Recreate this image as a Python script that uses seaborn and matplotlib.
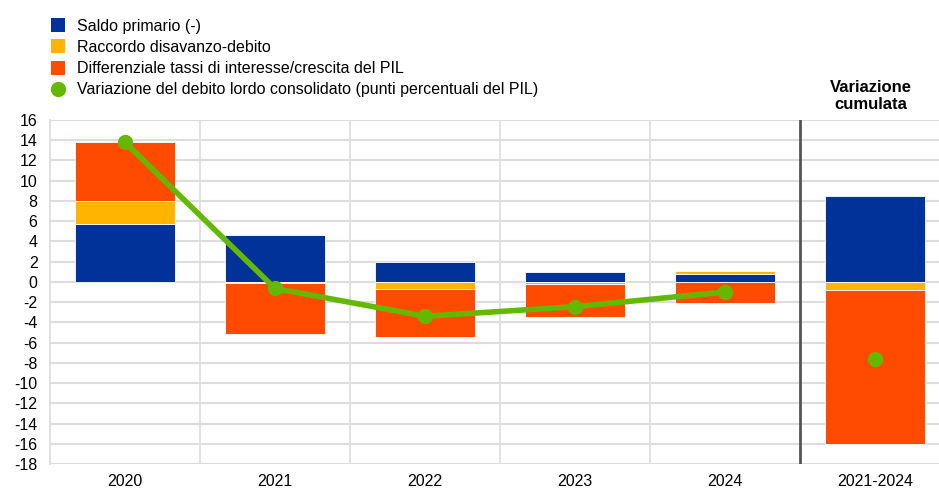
import numpy as np
import matplotlib
matplotlib.use("Agg")
import matplotlib.pyplot as plt
import seaborn as sns
from matplotlib.lines import Line2D

sns.set_style("white")
plt.rcParams['font.family'] = ['Liberation Sans', 'DejaVu Sans']
plt.rcParams['axes.unicode_minus'] = False
plt.rcParams['text.color'] = 'black'

# dati (punti percentuali del PIL)
categorie = ['2020', '2021', '2022', '2023', '2024', '2021-2024']
saldo_primario = [5.7, 4.6, 2.0, 1.0, 0.8, 8.5]
raccordo = [2.3, -0.1, -0.7, -0.2, 0.25, -0.82]
differenziale = [5.8, -5.1, -4.75, -3.3, -2.05, -15.2]
variazione_debito = [13.8, -0.65, -3.4, -2.45, -1.0]
variazione_cumulata = [-7.6]

serie = [
    ('Saldo primario (-)', saldo_primario, '#003299'),
    ('Raccordo disavanzo-debito', raccordo, '#FFB400'),
    ('Differenziale tassi di interesse/crescita del PIL', differenziale, '#FF4B00'),
]
verde = '#65B800'

fig = plt.figure(figsize=(9.39, 4.90), dpi=100)
ax = fig.add_axes([50 / 939, 1 - 464 / 490, 1 - 50 / 939, (464 - 120) / 490])

x = np.arange(len(categorie))
pos = np.zeros(len(categorie))
neg = np.zeros(len(categorie))
for nome, vals, col in serie:
    v = np.array(vals)
    base = np.where(v >= 0, pos, neg)
    ax.bar(x, v, width=0.667, bottom=base, color=col, edgecolor='white',
           linewidth=0.6, zorder=3)
    pos = pos + np.where(v >= 0, v, 0)
    neg = neg + np.where(v < 0, v, 0)

sns.lineplot(x=x[:5], y=variazione_debito, ax=ax, color=verde, linewidth=4,
             marker='o', markersize=11, markeredgewidth=0, zorder=5)
sns.scatterplot(x=x[5:], y=variazione_cumulata, ax=ax, color=verde, s=120,
                linewidth=0, zorder=5)

ax.set_xlim(-0.5, (939 - 125) / 150)
ax.set_ylim(-18, 16)
ax.set_yticks(range(-18, 17, 2))
ax.set_xticks(x)
ax.set_xticklabels(categorie)
ax.tick_params(axis='both', length=0, labelsize=11.5, colors='black')
ax.tick_params(axis='x', pad=7)
ax.tick_params(axis='y', pad=9)

for y in range(-18, 17, 2):
    ax.axhline(y, color='#dddddd', linewidth=1.5, zorder=0)
for b in [0.5, 1.5, 2.5, 3.5]:
    ax.axvline(b, color='#dddddd', linewidth=1.2, zorder=0)
ax.axvline(4.5, color='#555555', linewidth=2, zorder=4)

for s in ['top', 'right', 'bottom']:
    ax.spines[s].set_visible(False)
ax.spines['left'].set_color('#dddddd')
ax.spines['left'].set_linewidth(1.2)

ax.text(4.975, 16.8, 'Variazione\ncumulata', ha='center', va='bottom',
        fontsize=12, fontweight='bold', linespacing=1.15)

handles = [Line2D([], [], linestyle='none', marker='s', markersize=10.5,
                  markerfacecolor=c, markeredgewidth=0) for _, _, c in serie]
handles.append(Line2D([], [], linestyle='none', marker='o', markersize=11,
                      markerfacecolor=verde, markeredgewidth=0))
labels = [n for n, _, _ in serie] + ['Variazione del debito lordo consolidato (punti percentuali del PIL)']
fig.legend(handles, labels, loc='upper left', bbox_to_anchor=(40 / 939, 1 - 11 / 490),
           frameon=False, fontsize=11.5, handletextpad=0.6, labelspacing=0.38,
           handlelength=1.2, borderpad=0)

fig.savefig('out.png', dpi=100)
